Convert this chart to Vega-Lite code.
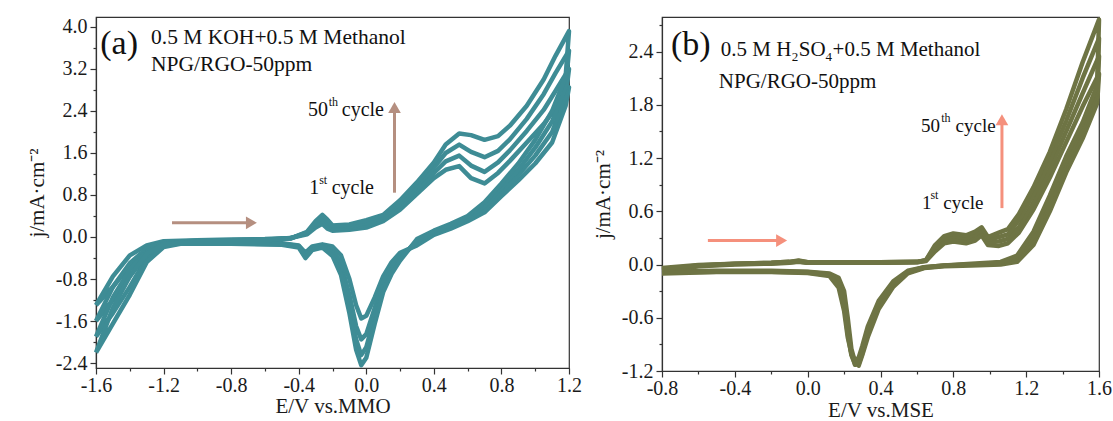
{
"$schema": "https://vega.github.io/schema/vega-lite/v6.json",
"background": "white",
"padding": {"left": 25, "top": 14, "right": 5, "bottom": 0},
"spacing": 8,
"config": {
  "font": "Liberation Serif",
  "view": {"stroke": "#333", "strokeWidth": 1.2},
  "axis": {"labelFont": "Liberation Serif", "labelFontSize": 20, "titleFont": "Liberation Serif", "titleFontSize": 21, "titleFontWeight": "normal", "labelColor": "#1a1a1a", "titleColor": "#1a1a1a", "domainColor": "#333", "tickColor": "#333", "domainWidth": 1.2, "tickWidth": 1.2, "grid": false, "labelPadding": 3, "labelOverlap": false, "labelFlush": false, "labelBound": false}
},
"datasets": {
"a": [
{"c":1,"x":-1.6,"y":-1.3},{"c":1,"x":-1.5,"y":-0.75},{"c":1,"x":-1.4,"y":-0.35},{"c":1,"x":-1.3,"y":-0.16},{"c":1,"x":-1.2,"y":-0.08},{"c":1,"x":-1.0,"y":-0.06},{"c":1,"x":-0.8,"y":-0.05},{"c":1,"x":-0.6,"y":-0.04},{"c":1,"x":-0.45,"y":-0.02},{"c":1,"x":-0.35,"y":0.05},{"c":1,"x":-0.3,"y":0.18},{"c":1,"x":-0.26,"y":0.25},{"c":1,"x":-0.23,"y":0.16},{"c":1,"x":-0.2,"y":0.12},{"c":1,"x":-0.1,"y":0.14},{"c":1,"x":0.0,"y":0.18},{"c":1,"x":0.1,"y":0.3},{"c":1,"x":0.2,"y":0.52},{"c":1,"x":0.3,"y":0.82},{"c":1,"x":0.4,"y":1.12},{"c":1,"x":0.47,"y":1.28},{"c":1,"x":0.55,"y":1.35},{"c":1,"x":0.62,"y":1.12},{"c":1,"x":0.7,"y":1.02},{"c":1,"x":0.78,"y":1.22},{"c":1,"x":0.85,"y":1.45},{"c":1,"x":0.95,"y":1.8},{"c":1,"x":1.05,"y":2.15},{"c":1,"x":1.12,"y":2.45},{"c":1,"x":1.2,"y":2.85},
{"c":1,"x":1.18,"y":2.5},{"c":1,"x":1.1,"y":1.8},{"c":1,"x":1.0,"y":1.4},{"c":1,"x":0.9,"y":1.08},{"c":1,"x":0.8,"y":0.78},{"c":1,"x":0.7,"y":0.47},{"c":1,"x":0.6,"y":0.3},{"c":1,"x":0.5,"y":0.16},{"c":1,"x":0.4,"y":0.04},{"c":1,"x":0.3,"y":-0.16},{"c":1,"x":0.2,"y":-0.3},{"c":1,"x":0.15,"y":-0.48},{"c":1,"x":0.1,"y":-0.75},{"c":1,"x":0.05,"y":-1.15},{"c":1,"x":0.0,"y":-1.5},{"c":1,"x":-0.03,"y":-1.55},{"c":1,"x":-0.06,"y":-1.3},{"c":1,"x":-0.1,"y":-0.8},{"c":1,"x":-0.15,"y":-0.35},{"c":1,"x":-0.2,"y":-0.18},{"c":1,"x":-0.26,"y":-0.14},{"c":1,"x":-0.32,"y":-0.18},{"c":1,"x":-0.36,"y":-0.3},{"c":1,"x":-0.4,"y":-0.16},{"c":1,"x":-0.5,"y":-0.12},{"c":1,"x":-0.8,"y":-0.1},{"c":1,"x":-1.1,"y":-0.1},{"c":1,"x":-1.2,"y":-0.13},{"c":1,"x":-1.3,"y":-0.25},{"c":1,"x":-1.4,"y":-0.55},{"c":1,"x":-1.5,"y":-0.95},{"c":1,"x":-1.6,"y":-1.3},
{"c":2,"x":-1.6,"y":-1.6},{"c":2,"x":-1.5,"y":-0.95},{"c":2,"x":-1.4,"y":-0.5},{"c":2,"x":-1.3,"y":-0.22},{"c":2,"x":-1.2,"y":-0.1},{"c":2,"x":-1.0,"y":-0.07},{"c":2,"x":-0.8,"y":-0.06},{"c":2,"x":-0.6,"y":-0.05},{"c":2,"x":-0.45,"y":-0.02},{"c":2,"x":-0.35,"y":0.07},{"c":2,"x":-0.3,"y":0.22},{"c":2,"x":-0.26,"y":0.32},{"c":2,"x":-0.23,"y":0.22},{"c":2,"x":-0.2,"y":0.16},{"c":2,"x":-0.1,"y":0.17},{"c":2,"x":0.0,"y":0.23},{"c":2,"x":0.1,"y":0.34},{"c":2,"x":0.2,"y":0.58},{"c":2,"x":0.3,"y":0.9},{"c":2,"x":0.4,"y":1.22},{"c":2,"x":0.47,"y":1.44},{"c":2,"x":0.55,"y":1.55},{"c":2,"x":0.62,"y":1.36},{"c":2,"x":0.7,"y":1.24},{"c":2,"x":0.78,"y":1.42},{"c":2,"x":0.85,"y":1.65},{"c":2,"x":0.95,"y":2.02},{"c":2,"x":1.05,"y":2.42},{"c":2,"x":1.12,"y":2.78},{"c":2,"x":1.2,"y":3.2},
{"c":2,"x":1.18,"y":2.68},{"c":2,"x":1.1,"y":2.0},{"c":2,"x":1.0,"y":1.55},{"c":2,"x":0.9,"y":1.18},{"c":2,"x":0.8,"y":0.86},{"c":2,"x":0.7,"y":0.53},{"c":2,"x":0.6,"y":0.33},{"c":2,"x":0.5,"y":0.19},{"c":2,"x":0.4,"y":0.07},{"c":2,"x":0.3,"y":-0.12},{"c":2,"x":0.2,"y":-0.35},{"c":2,"x":0.15,"y":-0.55},{"c":2,"x":0.1,"y":-0.85},{"c":2,"x":0.05,"y":-1.35},{"c":2,"x":0.0,"y":-1.85},{"c":2,"x":-0.03,"y":-1.95},{"c":2,"x":-0.06,"y":-1.7},{"c":2,"x":-0.1,"y":-1.1},{"c":2,"x":-0.15,"y":-0.5},{"c":2,"x":-0.2,"y":-0.24},{"c":2,"x":-0.26,"y":-0.16},{"c":2,"x":-0.32,"y":-0.2},{"c":2,"x":-0.36,"y":-0.33},{"c":2,"x":-0.4,"y":-0.17},{"c":2,"x":-0.5,"y":-0.13},{"c":2,"x":-0.8,"y":-0.11},{"c":2,"x":-1.1,"y":-0.11},{"c":2,"x":-1.2,"y":-0.15},{"c":2,"x":-1.3,"y":-0.32},{"c":2,"x":-1.4,"y":-0.75},{"c":2,"x":-1.5,"y":-1.2},{"c":2,"x":-1.6,"y":-1.6},
{"c":3,"x":-1.6,"y":-1.9},{"c":3,"x":-1.5,"y":-1.15},{"c":3,"x":-1.4,"y":-0.62},{"c":3,"x":-1.3,"y":-0.28},{"c":3,"x":-1.2,"y":-0.12},{"c":3,"x":-1.0,"y":-0.08},{"c":3,"x":-0.8,"y":-0.06},{"c":3,"x":-0.6,"y":-0.05},{"c":3,"x":-0.45,"y":-0.03},{"c":3,"x":-0.35,"y":0.09},{"c":3,"x":-0.3,"y":0.26},{"c":3,"x":-0.26,"y":0.38},{"c":3,"x":-0.23,"y":0.28},{"c":3,"x":-0.2,"y":0.2},{"c":3,"x":-0.1,"y":0.2},{"c":3,"x":0.0,"y":0.27},{"c":3,"x":0.1,"y":0.38},{"c":3,"x":0.2,"y":0.64},{"c":3,"x":0.3,"y":0.97},{"c":3,"x":0.4,"y":1.32},{"c":3,"x":0.47,"y":1.6},{"c":3,"x":0.55,"y":1.76},{"c":3,"x":0.62,"y":1.62},{"c":3,"x":0.7,"y":1.52},{"c":3,"x":0.78,"y":1.64},{"c":3,"x":0.85,"y":1.86},{"c":3,"x":0.95,"y":2.25},{"c":3,"x":1.05,"y":2.72},{"c":3,"x":1.12,"y":3.12},{"c":3,"x":1.2,"y":3.55},
{"c":3,"x":1.18,"y":2.86},{"c":3,"x":1.1,"y":2.2},{"c":3,"x":1.0,"y":1.7},{"c":3,"x":0.9,"y":1.28},{"c":3,"x":0.8,"y":0.94},{"c":3,"x":0.7,"y":0.59},{"c":3,"x":0.6,"y":0.36},{"c":3,"x":0.5,"y":0.22},{"c":3,"x":0.4,"y":0.1},{"c":3,"x":0.3,"y":-0.08},{"c":3,"x":0.2,"y":-0.4},{"c":3,"x":0.15,"y":-0.62},{"c":3,"x":0.1,"y":-0.95},{"c":3,"x":0.05,"y":-1.5},{"c":3,"x":0.0,"y":-2.1},{"c":3,"x":-0.03,"y":-2.25},{"c":3,"x":-0.06,"y":-1.95},{"c":3,"x":-0.1,"y":-1.3},{"c":3,"x":-0.15,"y":-0.62},{"c":3,"x":-0.2,"y":-0.3},{"c":3,"x":-0.26,"y":-0.18},{"c":3,"x":-0.32,"y":-0.22},{"c":3,"x":-0.36,"y":-0.36},{"c":3,"x":-0.4,"y":-0.18},{"c":3,"x":-0.5,"y":-0.14},{"c":3,"x":-0.8,"y":-0.12},{"c":3,"x":-1.1,"y":-0.12},{"c":3,"x":-1.2,"y":-0.17},{"c":3,"x":-1.3,"y":-0.4},{"c":3,"x":-1.4,"y":-0.95},{"c":3,"x":-1.5,"y":-1.45},{"c":3,"x":-1.6,"y":-1.9},
{"c":4,"x":-1.6,"y":-2.2},{"c":4,"x":-1.5,"y":-1.35},{"c":4,"x":-1.4,"y":-0.75},{"c":4,"x":-1.3,"y":-0.32},{"c":4,"x":-1.2,"y":-0.14},{"c":4,"x":-1.0,"y":-0.09},{"c":4,"x":-0.8,"y":-0.07},{"c":4,"x":-0.6,"y":-0.06},{"c":4,"x":-0.45,"y":-0.03},{"c":4,"x":-0.35,"y":0.1},{"c":4,"x":-0.3,"y":0.3},{"c":4,"x":-0.26,"y":0.42},{"c":4,"x":-0.23,"y":0.33},{"c":4,"x":-0.2,"y":0.22},{"c":4,"x":-0.1,"y":0.24},{"c":4,"x":0.0,"y":0.32},{"c":4,"x":0.1,"y":0.42},{"c":4,"x":0.2,"y":0.7},{"c":4,"x":0.3,"y":1.04},{"c":4,"x":0.4,"y":1.42},{"c":4,"x":0.47,"y":1.76},{"c":4,"x":0.55,"y":1.97},{"c":4,"x":0.62,"y":1.94},{"c":4,"x":0.7,"y":1.85},{"c":4,"x":0.78,"y":1.92},{"c":4,"x":0.85,"y":2.12},{"c":4,"x":0.95,"y":2.5},{"c":4,"x":1.05,"y":3.0},{"c":4,"x":1.12,"y":3.45},{"c":4,"x":1.2,"y":3.92},
{"c":4,"x":1.18,"y":3.05},{"c":4,"x":1.1,"y":2.4},{"c":4,"x":1.0,"y":1.85},{"c":4,"x":0.9,"y":1.4},{"c":4,"x":0.8,"y":1.02},{"c":4,"x":0.7,"y":0.66},{"c":4,"x":0.6,"y":0.4},{"c":4,"x":0.5,"y":0.25},{"c":4,"x":0.4,"y":0.12},{"c":4,"x":0.3,"y":-0.04},{"c":4,"x":0.2,"y":-0.45},{"c":4,"x":0.15,"y":-0.7},{"c":4,"x":0.1,"y":-1.05},{"c":4,"x":0.05,"y":-1.65},{"c":4,"x":0.0,"y":-2.3},{"c":4,"x":-0.03,"y":-2.44},{"c":4,"x":-0.06,"y":-2.15},{"c":4,"x":-0.1,"y":-1.45},{"c":4,"x":-0.15,"y":-0.72},{"c":4,"x":-0.2,"y":-0.36},{"c":4,"x":-0.26,"y":-0.2},{"c":4,"x":-0.32,"y":-0.25},{"c":4,"x":-0.36,"y":-0.4},{"c":4,"x":-0.4,"y":-0.2},{"c":4,"x":-0.5,"y":-0.15},{"c":4,"x":-0.8,"y":-0.13},{"c":4,"x":-1.1,"y":-0.13},{"c":4,"x":-1.2,"y":-0.19},{"c":4,"x":-1.3,"y":-0.48},{"c":4,"x":-1.4,"y":-1.1},{"c":4,"x":-1.5,"y":-1.65},{"c":4,"x":-1.6,"y":-2.2}
],
"b": [
{"c":1,"x":-0.8,"y":-0.07},{"c":1,"x":-0.6,"y":-0.02},{"c":1,"x":-0.4,"y":0.0},{"c":1,"x":-0.2,"y":0.01},{"c":1,"x":-0.1,"y":0.02},{"c":1,"x":-0.05,"y":0.03},{"c":1,"x":0.0,"y":0.02},{"c":1,"x":0.2,"y":0.02},{"c":1,"x":0.4,"y":0.02},{"c":1,"x":0.6,"y":0.025},{"c":1,"x":0.65,"y":0.04},{"c":1,"x":0.7,"y":0.15},{"c":1,"x":0.75,"y":0.24},{"c":1,"x":0.8,"y":0.26},{"c":1,"x":0.87,"y":0.24},{"c":1,"x":0.92,"y":0.27},{"c":1,"x":0.955,"y":0.33},{"c":1,"x":0.99,"y":0.22},{"c":1,"x":1.05,"y":0.21},{"c":1,"x":1.1,"y":0.24},{"c":1,"x":1.16,"y":0.36},{"c":1,"x":1.24,"y":0.62},{"c":1,"x":1.33,"y":0.98},{"c":1,"x":1.42,"y":1.38},{"c":1,"x":1.51,"y":1.78},{"c":1,"x":1.6,"y":2.15},
{"c":1,"x":1.59,"y":1.82},{"c":1,"x":1.51,"y":1.42},{"c":1,"x":1.42,"y":1.04},{"c":1,"x":1.33,"y":0.6},{"c":1,"x":1.24,"y":0.22},{"c":1,"x":1.15,"y":0.03},{"c":1,"x":1.06,"y":0.0},{"c":1,"x":0.9,"y":-0.01},{"c":1,"x":0.75,"y":-0.02},{"c":1,"x":0.64,"y":-0.04},{"c":1,"x":0.55,"y":-0.1},{"c":1,"x":0.47,"y":-0.25},{"c":1,"x":0.39,"y":-0.5},{"c":1,"x":0.33,"y":-0.82},{"c":1,"x":0.3,"y":-1.02},{"c":1,"x":0.28,"y":-1.14},{"c":1,"x":0.26,"y":-1.1},{"c":1,"x":0.24,"y":-0.95},{"c":1,"x":0.22,"y":-0.6},{"c":1,"x":0.2,"y":-0.3},{"c":1,"x":0.17,"y":-0.15},{"c":1,"x":0.12,"y":-0.1},{"c":1,"x":0.0,"y":-0.08},{"c":1,"x":-0.2,"y":-0.07},{"c":1,"x":-0.5,"y":-0.07},{"c":1,"x":-0.8,"y":-0.08},
{"c":2,"x":-0.8,"y":-0.06},{"c":2,"x":-0.6,"y":-0.015},{"c":2,"x":-0.4,"y":0.005},{"c":2,"x":-0.2,"y":0.015},{"c":2,"x":-0.1,"y":0.025},{"c":2,"x":-0.05,"y":0.035},{"c":2,"x":0.0,"y":0.02},{"c":2,"x":0.2,"y":0.02},{"c":2,"x":0.4,"y":0.02},{"c":2,"x":0.6,"y":0.025},{"c":2,"x":0.65,"y":0.045},{"c":2,"x":0.7,"y":0.18},{"c":2,"x":0.75,"y":0.27},{"c":2,"x":0.8,"y":0.29},{"c":2,"x":0.87,"y":0.27},{"c":2,"x":0.92,"y":0.3},{"c":2,"x":0.955,"y":0.36},{"c":2,"x":0.99,"y":0.25},{"c":2,"x":1.05,"y":0.26},{"c":2,"x":1.1,"y":0.29},{"c":2,"x":1.16,"y":0.42},{"c":2,"x":1.24,"y":0.7},{"c":2,"x":1.33,"y":1.07},{"c":2,"x":1.42,"y":1.5},{"c":2,"x":1.51,"y":1.93},{"c":2,"x":1.6,"y":2.35},
{"c":2,"x":1.59,"y":1.88},{"c":2,"x":1.51,"y":1.48},{"c":2,"x":1.42,"y":1.1},{"c":2,"x":1.33,"y":0.66},{"c":2,"x":1.24,"y":0.27},{"c":2,"x":1.15,"y":0.05},{"c":2,"x":1.06,"y":0.01},{"c":2,"x":0.9,"y":0.0},{"c":2,"x":0.75,"y":-0.015},{"c":2,"x":0.64,"y":-0.035},{"c":2,"x":0.55,"y":-0.09},{"c":2,"x":0.47,"y":-0.23},{"c":2,"x":0.39,"y":-0.47},{"c":2,"x":0.33,"y":-0.78},{"c":2,"x":0.3,"y":-1.0},{"c":2,"x":0.28,"y":-1.12},{"c":2,"x":0.26,"y":-1.13},{"c":2,"x":0.24,"y":-1.0},{"c":2,"x":0.22,"y":-0.7},{"c":2,"x":0.2,"y":-0.38},{"c":2,"x":0.17,"y":-0.18},{"c":2,"x":0.12,"y":-0.11},{"c":2,"x":0.0,"y":-0.085},{"c":2,"x":-0.2,"y":-0.075},{"c":2,"x":-0.5,"y":-0.075},{"c":2,"x":-0.8,"y":-0.085},
{"c":3,"x":-0.8,"y":-0.05},{"c":3,"x":-0.6,"y":-0.01},{"c":3,"x":-0.4,"y":0.01},{"c":3,"x":-0.2,"y":0.02},{"c":3,"x":-0.1,"y":0.03},{"c":3,"x":-0.05,"y":0.04},{"c":3,"x":0.0,"y":0.025},{"c":3,"x":0.2,"y":0.025},{"c":3,"x":0.4,"y":0.025},{"c":3,"x":0.6,"y":0.03},{"c":3,"x":0.65,"y":0.05},{"c":3,"x":0.7,"y":0.2},{"c":3,"x":0.75,"y":0.3},{"c":3,"x":0.8,"y":0.32},{"c":3,"x":0.87,"y":0.3},{"c":3,"x":0.92,"y":0.34},{"c":3,"x":0.955,"y":0.39},{"c":3,"x":0.99,"y":0.28},{"c":3,"x":1.05,"y":0.31},{"c":3,"x":1.1,"y":0.34},{"c":3,"x":1.16,"y":0.5},{"c":3,"x":1.24,"y":0.79},{"c":3,"x":1.33,"y":1.17},{"c":3,"x":1.42,"y":1.62},{"c":3,"x":1.51,"y":2.1},{"c":3,"x":1.6,"y":2.55},
{"c":3,"x":1.59,"y":1.95},{"c":3,"x":1.51,"y":1.54},{"c":3,"x":1.42,"y":1.16},{"c":3,"x":1.33,"y":0.72},{"c":3,"x":1.24,"y":0.32},{"c":3,"x":1.15,"y":0.08},{"c":3,"x":1.06,"y":0.02},{"c":3,"x":0.9,"y":0.0},{"c":3,"x":0.75,"y":-0.01},{"c":3,"x":0.64,"y":-0.03},{"c":3,"x":0.55,"y":-0.08},{"c":3,"x":0.47,"y":-0.21},{"c":3,"x":0.39,"y":-0.44},{"c":3,"x":0.33,"y":-0.74},{"c":3,"x":0.3,"y":-0.97},{"c":3,"x":0.28,"y":-1.1},{"c":3,"x":0.26,"y":-1.12},{"c":3,"x":0.24,"y":-1.02},{"c":3,"x":0.22,"y":-0.78},{"c":3,"x":0.2,"y":-0.45},{"c":3,"x":0.17,"y":-0.22},{"c":3,"x":0.12,"y":-0.12},{"c":3,"x":0.0,"y":-0.09},{"c":3,"x":-0.2,"y":-0.08},{"c":3,"x":-0.5,"y":-0.08},{"c":3,"x":-0.8,"y":-0.09},
{"c":4,"x":-0.8,"y":-0.04},{"c":4,"x":-0.6,"y":-0.005},{"c":4,"x":-0.4,"y":0.01},{"c":4,"x":-0.2,"y":0.02},{"c":4,"x":-0.1,"y":0.03},{"c":4,"x":-0.05,"y":0.045},{"c":4,"x":0.0,"y":0.025},{"c":4,"x":0.2,"y":0.025},{"c":4,"x":0.4,"y":0.025},{"c":4,"x":0.6,"y":0.03},{"c":4,"x":0.65,"y":0.05},{"c":4,"x":0.7,"y":0.22},{"c":4,"x":0.75,"y":0.32},{"c":4,"x":0.8,"y":0.35},{"c":4,"x":0.87,"y":0.33},{"c":4,"x":0.92,"y":0.37},{"c":4,"x":0.955,"y":0.42},{"c":4,"x":0.99,"y":0.31},{"c":4,"x":1.05,"y":0.36},{"c":4,"x":1.1,"y":0.4},{"c":4,"x":1.16,"y":0.57},{"c":4,"x":1.24,"y":0.87},{"c":4,"x":1.33,"y":1.27},{"c":4,"x":1.42,"y":1.75},{"c":4,"x":1.51,"y":2.28},{"c":4,"x":1.6,"y":2.76},
{"c":4,"x":1.59,"y":2.02},{"c":4,"x":1.51,"y":1.6},{"c":4,"x":1.42,"y":1.22},{"c":4,"x":1.33,"y":0.78},{"c":4,"x":1.24,"y":0.37},{"c":4,"x":1.15,"y":0.1},{"c":4,"x":1.06,"y":0.03},{"c":4,"x":0.9,"y":0.01},{"c":4,"x":0.75,"y":-0.01},{"c":4,"x":0.64,"y":-0.03},{"c":4,"x":0.55,"y":-0.07},{"c":4,"x":0.47,"y":-0.19},{"c":4,"x":0.39,"y":-0.41},{"c":4,"x":0.33,"y":-0.7},{"c":4,"x":0.3,"y":-0.92},{"c":4,"x":0.28,"y":-1.05},{"c":4,"x":0.26,"y":-1.08},{"c":4,"x":0.24,"y":-1.0},{"c":4,"x":0.22,"y":-0.82},{"c":4,"x":0.2,"y":-0.52},{"c":4,"x":0.17,"y":-0.26},{"c":4,"x":0.12,"y":-0.13},{"c":4,"x":0.0,"y":-0.095},{"c":4,"x":-0.2,"y":-0.085},{"c":4,"x":-0.5,"y":-0.085},{"c":4,"x":-0.8,"y":-0.1}
]
},
"hconcat": [
{
  "width": 473, "height": 351,
  "encoding": {
    "x": {"field": "x", "type": "quantitative", "scale": {"domain": [-1.6, 1.2], "nice": false, "zero": false},
      "axis": {"title": "E/V vs.MMO", "titlePadding": 0, "labelPadding": 1, "values": [-1.6,-1.4,-1.2,-1,-0.8,-0.6,-0.4,-0.2,0,0.2,0.4,0.6,0.8,1,1.2],
        "labelExpr": "abs(datum.value/0.4-round(datum.value/0.4))<0.01 ? replace(format(datum.value,'.1f'),'\u2212','-') : ''",
        "tickSize": {"condition": {"test": "abs(datum.value/0.4-round(datum.value/0.4))<0.01", "value": 6}, "value": 3}}},
    "y": {"field": "y", "type": "quantitative", "scale": {"domain": [-2.495, 4.19], "nice": false, "zero": false},
      "axis": {"title": "j/mA·cm⁻²", "titlePadding": 8, "values": [-2.4,-2,-1.6,-1.2,-0.8,-0.4,0,0.4,0.8,1.2,1.6,2,2.4,2.8,3.2,3.6,4],
        "labelExpr": "abs(datum.value/0.8-round(datum.value/0.8))<0.01 ? replace(format(datum.value,'.1f'),'\u2212','-') : ''",
        "tickSize": {"condition": {"test": "abs(datum.value/0.8-round(datum.value/0.8))<0.01", "value": 6}, "value": 3}}}
  },
  "layer": [
    {"data": {"name": "a"}, "mark": {"type": "line", "color": "#3e8c95", "strokeWidth": 4.5, "strokeJoin": "round"},
     "encoding": {"detail": {"field": "c", "type": "nominal"}, "order": {"value": null}}},
    {"data": {"values": [{"x": -1.15, "x2": -0.68, "y": 0.27, "y2": 0.27}, {"x": 0.167, "x2": 0.167, "y": 0.844, "y2": 2.47}]},
     "mark": {"type": "rule", "color": "#b58f80", "strokeWidth": 3},
     "encoding": {"x2": {"field": "x2"}, "y2": {"field": "y2"}}},
    {"data": {"values": [{"x": -0.68, "y": 0.27}]}, "mark": {"type": "point", "shape": "triangle-right", "filled": true, "opacity": 1, "color": "#b58f80", "size": 160}, "encoding": {}},
    {"data": {"values": [{"x": 0.167, "y": 2.465}]}, "mark": {"type": "point", "shape": "triangle-up", "filled": true, "opacity": 1, "color": "#b58f80", "size": 160}, "encoding": {}},
    {"data": {"values": [{"t": "(a)", "x": -1.575, "y": 3.68}]}, "mark": {"type": "text", "align": "left", "baseline": "middle", "font": "Liberation Serif", "fontSize": 34, "color": "#111"}, "encoding": {"text": {"field": "t"}}},
    {"data": {"values": [{"t": "0.5 M KOH+0.5 M Methanol", "x": -1.274, "y": 3.79}, {"t": "NPG/RGO-50ppm", "x": -1.274, "y": 3.28}]}, "mark": {"type": "text", "align": "left", "baseline": "middle", "font": "Liberation Serif", "fontSize": 21.5, "color": "#111"}, "encoding": {"text": {"field": "t"}}},
    {"data": {"values": [{"t": "50", "x": -0.345, "y": 2.42}, {"t": "cycle", "x": -0.145, "y": 2.42}, {"t": "1", "x": -0.338, "y": 0.93}, {"t": "cycle", "x": -0.205, "y": 0.93}]}, "mark": {"type": "text", "align": "left", "baseline": "middle", "font": "Liberation Serif", "fontSize": 20, "color": "#111"}, "encoding": {"text": {"field": "t"}}},
    {"data": {"values": [{"t": "th", "x": -0.222, "y": 2.58}, {"t": "st", "x": -0.279, "y": 1.09}]}, "mark": {"type": "text", "align": "left", "baseline": "middle", "font": "Liberation Serif", "fontSize": 12, "color": "#111"}, "encoding": {"text": {"field": "t"}}}
  ]
},
{
  "width": 437, "height": 354,
  "encoding": {
    "x": {"field": "x", "type": "quantitative", "scale": {"domain": [-0.8, 1.6], "nice": false, "zero": false},
      "axis": {"title": "E/V vs.MSE", "titlePadding": 1, "labelPadding": 1, "values": [-0.8,-0.6,-0.4,-0.2,0,0.2,0.4,0.6,0.8,1,1.2,1.4,1.6],
        "labelExpr": "abs(datum.value/0.4-round(datum.value/0.4))<0.01 ? replace(format(datum.value,'.1f'),'\u2212','-') : ''",
        "tickSize": {"condition": {"test": "abs(datum.value/0.4-round(datum.value/0.4))<0.01", "value": 6}, "value": 3}}},
    "y": {"field": "y", "type": "quantitative", "scale": {"domain": [-1.2, 2.79], "nice": false, "zero": false},
      "axis": {"title": "j/mA·cm⁻²", "titlePadding": 8, "values": [-1.2,-0.9,-0.6,-0.3,0,0.3,0.6,0.9,1.2,1.5,1.8,2.1,2.4,2.7],
        "labelExpr": "abs(datum.value/0.6-round(datum.value/0.6))<0.01 ? replace(format(datum.value,'.1f'),'\u2212','-') : ''",
        "tickSize": {"condition": {"test": "abs(datum.value/0.6-round(datum.value/0.6))<0.01", "value": 6}, "value": 3}}}
  },
  "layer": [
    {"data": {"name": "b"}, "mark": {"type": "line", "color": "#6e7444", "strokeWidth": 4.5, "strokeJoin": "round"},
     "encoding": {"detail": {"field": "c", "type": "nominal"}, "order": {"value": null}}},
    {"data": {"values": [{"x": -0.548, "x2": -0.143, "y": 0.27, "y2": 0.27}, {"x": 1.067, "x2": 1.067, "y": 0.636, "y2": 1.64}]},
     "mark": {"type": "rule", "color": "#f5907c", "strokeWidth": 3},
     "encoding": {"x2": {"field": "x2"}, "y2": {"field": "y2"}}},
    {"data": {"values": [{"x": -0.143, "y": 0.27}]}, "mark": {"type": "point", "shape": "triangle-right", "filled": true, "opacity": 1, "color": "#f5907c", "size": 160}, "encoding": {}},
    {"data": {"values": [{"x": 1.067, "y": 1.633}]}, "mark": {"type": "point", "shape": "triangle-up", "filled": true, "opacity": 1, "color": "#f5907c", "size": 160}, "encoding": {}},
    {"data": {"values": [{"t": "(b)", "x": -0.751, "y": 2.48}]}, "mark": {"type": "text", "align": "left", "baseline": "middle", "font": "Liberation Serif", "fontSize": 34, "color": "#111"}, "encoding": {"text": {"field": "t"}}},
    {"data": {"values": [{"t": "0.5 M H", "x": -0.477, "y": 2.42}, {"t": "SO", "x": -0.049, "y": 2.42}, {"t": "+0.5 M Methanol", "x": 0.137, "y": 2.42}, {"t": "NPG/RGO-50ppm", "x": -0.488, "y": 2.06}]}, "mark": {"type": "text", "align": "left", "baseline": "middle", "font": "Liberation Serif", "fontSize": 21, "color": "#111"}, "encoding": {"text": {"field": "t"}}},
    {"data": {"values": [{"t": "2", "x": -0.0877, "y": 2.34}, {"t": "4", "x": 0.0986, "y": 2.34}]}, "mark": {"type": "text", "align": "left", "baseline": "middle", "font": "Liberation Serif", "fontSize": 13, "color": "#111"}, "encoding": {"text": {"field": "t"}}},
    {"data": {"values": [{"t": "50", "x": 0.623, "y": 1.5625}, {"t": "cycle", "x": 0.812, "y": 1.5625}, {"t": "1", "x": 0.628, "y": 0.69}, {"t": "cycle", "x": 0.745, "y": 0.69}]}, "mark": {"type": "text", "align": "left", "baseline": "middle", "font": "Liberation Serif", "fontSize": 19, "color": "#111"}, "encoding": {"text": {"field": "t"}}},
    {"data": {"values": [{"t": "th", "x": 0.733, "y": 1.65}, {"t": "st", "x": 0.674, "y": 0.78}]}, "mark": {"type": "text", "align": "left", "baseline": "middle", "font": "Liberation Serif", "fontSize": 12, "color": "#111"}, "encoding": {"text": {"field": "t"}}}
  ]
}
]
}
